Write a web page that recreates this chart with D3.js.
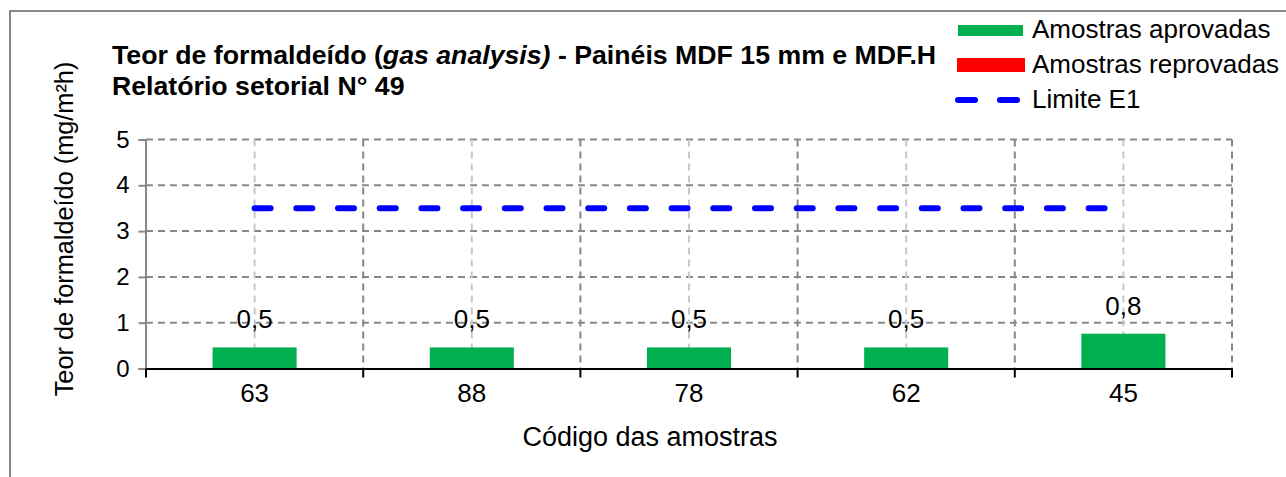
<html>
<head>
<meta charset="utf-8">
<script src="https://cdn.jsdelivr.net/npm/d3@7"></script>
<style>
body { margin: 0; background: white; }
svg { display: block; font-family: "Liberation Sans", Arial, sans-serif; }
</style>
</head>
<body>
<svg width="1286" height="477"></svg>
<script>
// data
var codes = ["63", "88", "78", "62", "45"];
var values = [0.46, 0.46, 0.46, 0.46, 0.76];
var limitE1 = [3.5, 3.5, 3.5, 3.5, 3.5];
var yTicks = [0, 1, 2, 3, 4, 5];
var legendLabels = ["Amostras aprovadas", "Amostras reprovadas", "Limite E1"];

var svg = d3.select("svg");

var plotLeft = 146, plotRight = 1232, plotTop = 139.5, plotBottom = 368.5;

var x = d3.scaleBand().domain(codes).range([plotLeft, plotRight]).padding(0);
var y = d3.scaleLinear().domain([0, 5]).range([plotBottom, plotTop]);
var fmt = function(v) { return d3.format(".1f")(v).replace(".", ","); };

// outer frame (runs off the right and bottom edge)
svg.append("rect")
   .attr("x", 10).attr("y", 11).attr("width", 1400).attr("height", 600)
   .attr("fill", "none").attr("stroke", "#888").attr("stroke-width", 2);

// horizontal grid
svg.append("g").selectAll("line")
   .data(yTicks.slice(1))
   .enter().append("line")
   .attr("x1", plotLeft).attr("x2", plotRight)
   .attr("y1", function(d) { return y(d); })
   .attr("y2", function(d) { return y(d); })
   .attr("stroke", "#888").attr("stroke-width", 2).attr("stroke-dasharray", "7,5");

// vertical grid at the centres (light)
svg.append("g").selectAll("line")
   .data(codes)
   .enter().append("line")
   .attr("x1", function(d) { return x(d) + x.bandwidth() / 2; })
   .attr("x2", function(d) { return x(d) + x.bandwidth() / 2; })
   .attr("y1", plotTop).attr("y2", plotBottom)
   .attr("stroke", "#c8c8c8").attr("stroke-width", 2).attr("stroke-dasharray", "7,5");

// vertical grid at the band edges (dark)
var edges = codes.map(function(d) { return x(d); }).concat([plotRight]);
svg.append("g").selectAll("line")
   .data(edges.slice(1))
   .enter().append("line")
   .attr("x1", function(d) { return d; }).attr("x2", function(d) { return d; })
   .attr("y1", plotTop).attr("y2", plotBottom)
   .attr("stroke", "#888").attr("stroke-width", 2).attr("stroke-dasharray", "7,5");

// bars
var barW = x.bandwidth() * 0.387;
svg.append("g").selectAll("rect")
   .data(values)
   .enter().append("rect")
   .attr("x", function(d, i) { return x(codes[i]) + (x.bandwidth() - barW) / 2; })
   .attr("y", function(d) { return y(d); })
   .attr("width", barW)
   .attr("height", function(d) { return y(0) - y(d); })
   .attr("fill", "#00b050");

// bar labels
svg.append("g").selectAll("text")
   .data(values)
   .enter().append("text")
   .attr("x", function(d, i) { return x(codes[i]) + x.bandwidth() / 2; })
   .attr("y", function(d) { return y(d) - 19; })
   .attr("text-anchor", "middle")
   .style("font-size", "26px")
   .text(fmt);

// y axis
var yAxis = svg.append("g")
   .attr("transform", "translate(" + (plotLeft - 0.5) + ",0)")
   .call(d3.axisLeft(y).tickValues(yTicks).tickFormat(d3.format("d")).tickSize(7).tickPadding(9));
yAxis.selectAll("path, line").attr("stroke", "#888").attr("stroke-width", 2);
yAxis.selectAll("text").style("font-size", "24px").attr("fill", "#000")
   .style("font-family", "'Liberation Sans', Arial, sans-serif");

// x axis
var xAxis = svg.append("g")
   .attr("transform", "translate(0," + plotBottom + ")")
   .call(d3.axisBottom(x).tickSize(0).tickPadding(15));
xAxis.select(".domain").attr("stroke", "#000").attr("stroke-width", 2);
xAxis.selectAll("text").style("font-size", "26px").attr("fill", "#000")
   .style("font-family", "'Liberation Sans', Arial, sans-serif");
svg.append("g").selectAll("line")
   .data(edges)
   .enter().append("line")
   .attr("x1", function(d) { return d; }).attr("x2", function(d) { return d; })
   .attr("y1", plotBottom).attr("y2", plotBottom + 9)
   .attr("stroke", "#000").attr("stroke-width", 2);

// limit line E1
var line = d3.line()
   .x(function(d, i) { return x(codes[i]) + x.bandwidth() / 2; })
   .y(function(d) { return y(d); });
svg.append("path")
   .datum(limitE1)
   .attr("d", line)
   .attr("fill", "none")
   .attr("stroke", "#0000ff").attr("stroke-width", 6)
   .attr("stroke-linecap", "round")
   .attr("stroke-dasharray", "16,25.7");

// axis titles
svg.append("text")
   .attr("transform", "translate(73,229) rotate(-90)")
   .attr("text-anchor", "middle")
   .style("font-size", "25.3px")
   .text("Teor de formaldeído (mg/m²h)");

svg.append("text")
   .attr("x", 650).attr("y", 446)
   .attr("text-anchor", "middle")
   .style("font-size", "27px")
   .text("Código das amostras");

// title
var title = svg.append("text")
   .attr("x", 112).attr("y", 64)
   .style("font-size", "26.7px").style("font-weight", "bold");
title.append("tspan").text("Teor de formaldeído (");
title.append("tspan").style("font-style", "italic").text("gas analysis)");
title.append("tspan").text(" - Painéis MDF 15 mm e MDF.H");
svg.append("text")
   .attr("x", 112).attr("y", 95)
   .style("font-size", "26.7px").style("font-weight", "bold")
   .text("Relatório setorial N° 49");

// legend
var lg = svg.append("g");
lg.append("rect").attr("x", 958).attr("y", 25).attr("width", 65).attr("height", 11).attr("fill", "#00b050");
lg.append("rect").attr("x", 957).attr("y", 58).attr("width", 68).attr("height", 14).attr("fill", "#ff0000");
lg.append("line").attr("x1", 958).attr("x2", 1017).attr("y1", 100).attr("y2", 100)
   .attr("stroke", "#0000ff").attr("stroke-width", 6).attr("stroke-linecap", "round")
   .attr("stroke-dasharray", "17,25");
lg.selectAll("text")
   .data(legendLabels)
   .enter().append("text")
   .attr("x", 1032)
   .attr("y", function(d, i) { return 38 + i * 35; })
   .style("font-size", "26px")
   .text(function(d) { return d; });
</script>
</body>
</html>
